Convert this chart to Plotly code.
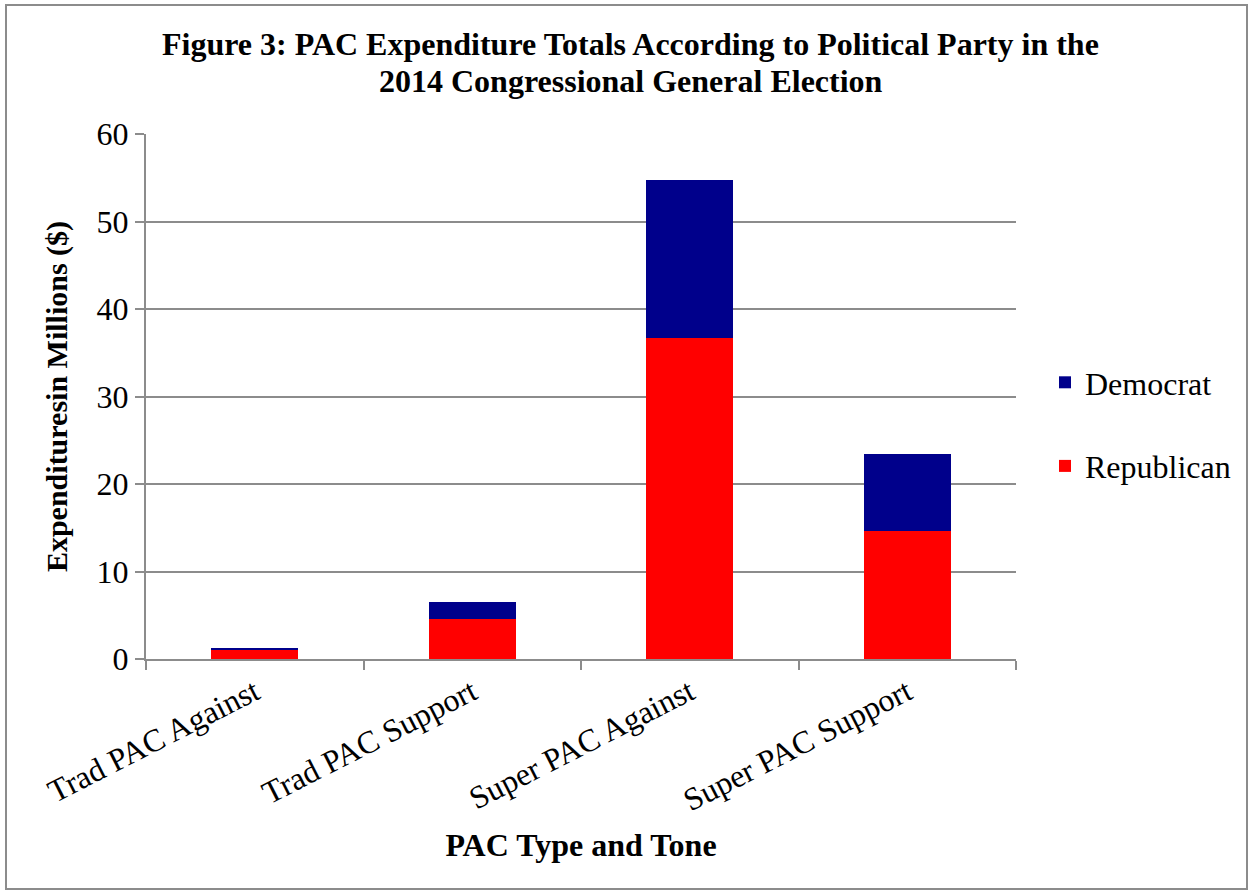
import plotly.graph_objects as go

categories = ["Trad PAC Against", "Trad PAC Support", "Super PAC Against", "Super PAC Support"]
republican = [1.1, 4.6, 36.65, 14.65]
democrat = [0.2, 1.9, 18.15, 8.75]
y_ticks = [0, 10, 20, 30, 40, 50, 60]
title_lines = ["Figure 3: PAC Expenditure Totals According to Political Party in the",
               "2014 Congressional General Election"]

FONT = "Liberation Serif"
W, H = 1253, 893
L, R, T, B = 146, 237, 134, 234
pw, ph = W - L - R, H - T - B

fig = go.Figure()
fig.add_trace(go.Bar(x=categories, y=republican, name="Republican",
                     marker=dict(color="#FF0000", line=dict(width=0)),
                     legendgroup="r", legendrank=2))
fig.add_trace(go.Bar(x=categories, y=democrat, name="Democrat",
                     marker=dict(color="#00008B", line=dict(width=0)),
                     legendgroup="d", legendrank=1))

def px(x):
    return (x - L) / pw

def py(y):
    return (H - B - y) / ph

annotations = [
    dict(text="<b>%s</b>" % title_lines[0], xref="paper", yref="paper", x=px(630), y=py(44),
         xanchor="center", yanchor="middle", showarrow=False,
         font=dict(family=FONT, size=32, color="black")),
    dict(text="<b>%s</b>" % title_lines[1], xref="paper", yref="paper", x=px(631), y=py(81),
         xanchor="center", yanchor="middle", showarrow=False,
         font=dict(family=FONT, size=32, color="black")),
]

fig.update_layout(
    width=W, height=H,
    margin=dict(l=L, r=R, t=T, b=B, autoexpand=False),
    barmode="stack", bargap=0.6,
    paper_bgcolor="white", plot_bgcolor="white",
    font=dict(family=FONT, color="black", size=32),
    showlegend=True,
    legend=dict(x=px(1045), xanchor="left", y=py(355), yanchor="top",
                traceorder="grouped", tracegroupgap=39,
                font=dict(family=FONT, size=32, color="black"),
                bgcolor="rgba(0,0,0,0)", itemwidth=30),
    xaxis=dict(type="category", showgrid=False, showline=True, linecolor="#8c8c8c", linewidth=2,
               ticks="outside", tickson="boundaries", ticklen=9, tickcolor="#8c8c8c", tickwidth=2,
               tickangle=-27, tickfont=dict(family=FONT, size=32, color="black"),
               title=dict(text="<b>PAC Type and Tone</b>", font=dict(family=FONT, size=32, color="black"),
                          standoff=17)),
    yaxis=dict(range=[0, 60], tickvals=y_ticks, showgrid=True, gridcolor="#8c8c8c", gridwidth=1.5,
               showline=True, linecolor="#8c8c8c", linewidth=2, zeroline=False,
               ticks="outside", ticklen=9, tickcolor="#8c8c8c", tickwidth=2,
               tickfont=dict(family=FONT, size=32, color="black"),
               title=dict(text="<b>Expendituresin Millions ($)</b>", font=dict(family=FONT, size=30, color="black"),
                          standoff=20)),
    annotations=annotations,
    shapes=[dict(type="rect", xref="paper", yref="paper",
                 x0=px(6), x1=px(1247), y0=py(889), y1=py(5),
                 line=dict(color="#8c8c8c", width=2), fillcolor="rgba(0,0,0,0)", layer="below")],
)

fig.write_html("out.html", config={"displayModeBar": False},
               post_script="document.body.style.margin='0';document.body.style.overflow='hidden';")
